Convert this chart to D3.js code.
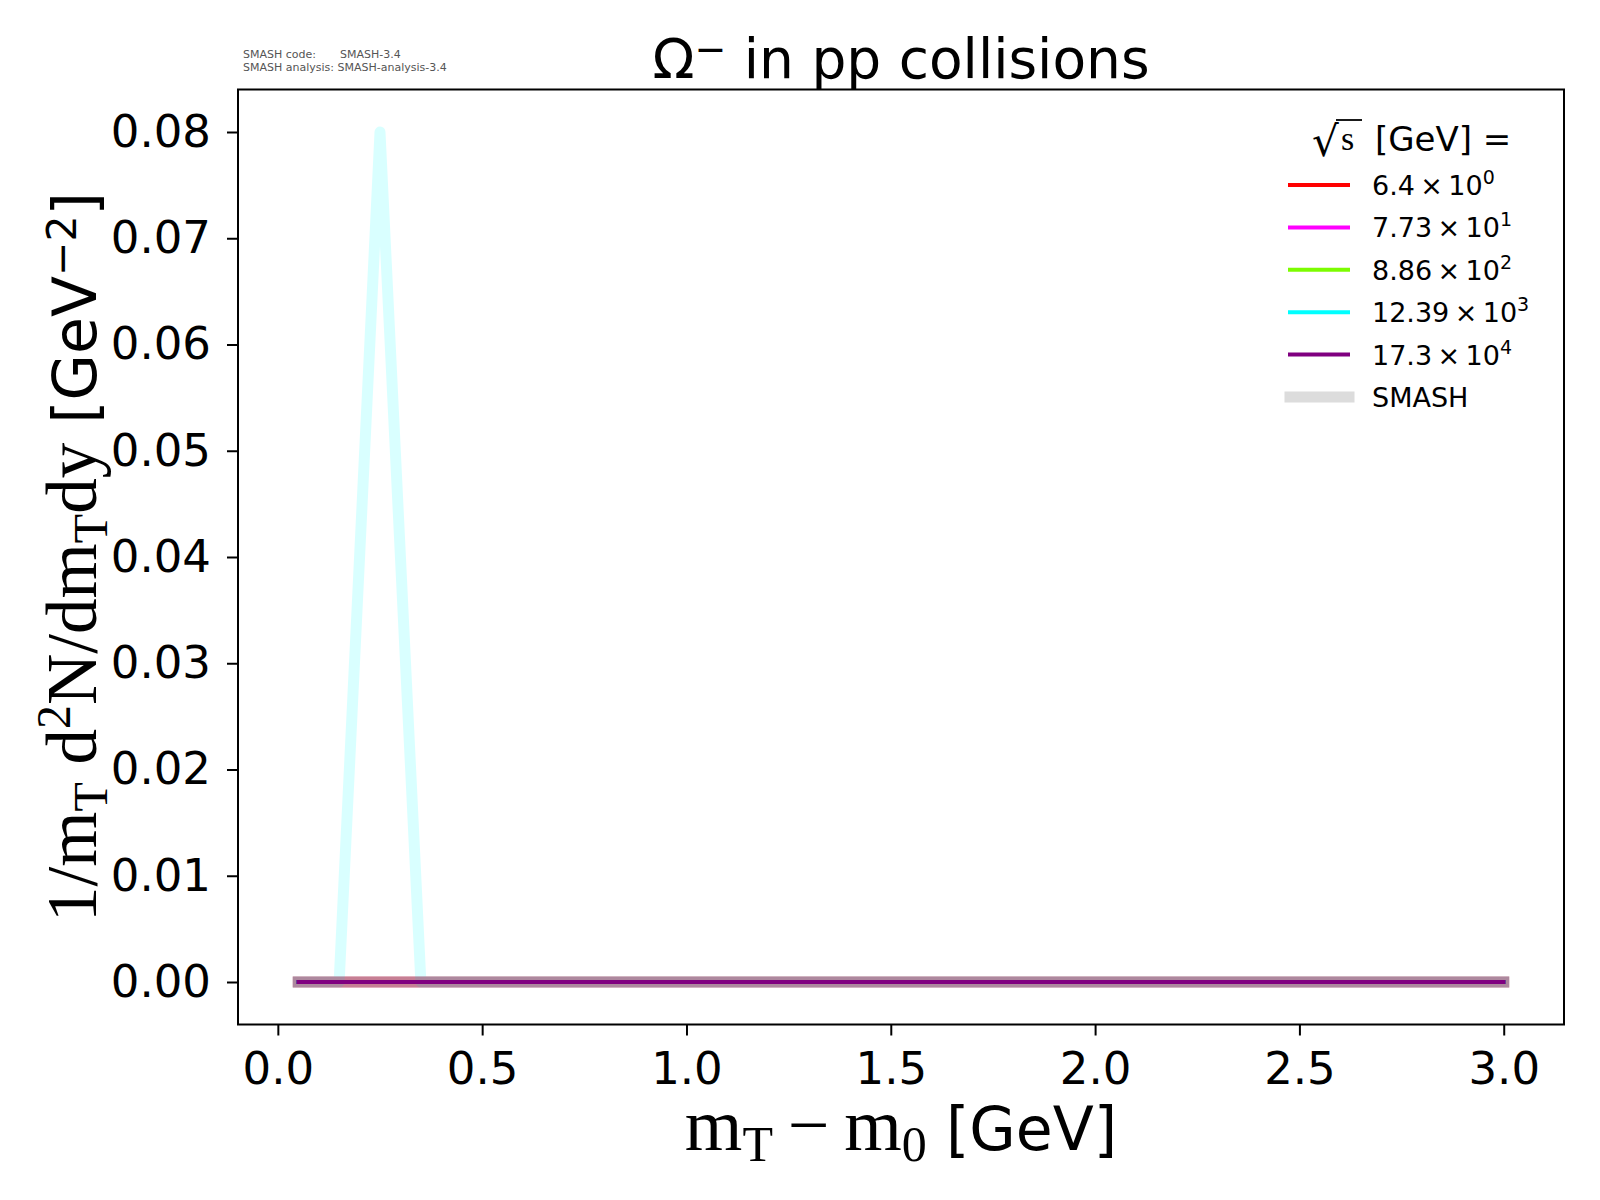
<!DOCTYPE html>
<html>
<head>
<meta charset="utf-8">
<script src="https://cdn.jsdelivr.net/npm/d3@7"></script>
<style>
  body { margin: 0; background: #fff; }
  text { font-family: "DejaVu Sans", sans-serif; }
</style>
</head>
<body>
<svg id="chart" width="1600" height="1200"></svg>
<script>
// m_T - m_0 bin positions [GeV]
const mtBins = [0.05, 0.15, 0.25, 0.35, 0.5, 0.75, 1.0, 1.5, 2.0, 2.5, 3.0];

// sqrt(s) legend labels: mantissa, exponent
const energyMantissa = ["6.4", "7.73", "8.86", "12.39", "17.3"];
const energyExponent = ["0", "1", "2", "3", "4"];
const seriesColors = ["#ff0000", "#ff00ff", "#7cfc00", "#00ffff", "#800080"];

// reference (thin line) values per energy
const dataValues = [
  [0, 0, 0, 0, 0, 0, 0, 0, 0, 0, 0],
  [0, 0, 0, 0, 0, 0, 0, 0, 0, 0, 0],
  [0, 0, 0, 0, 0, 0, 0, 0, 0, 0, 0],
  [0, 0, 0, 0, 0, 0, 0, 0, 0, 0, 0],
  [0, 0, 0, 0, 0, 0, 0, 0, 0, 0, 0]
];
// SMASH (wide band) values per energy
const smashValues = [
  [0, 0, 0, 0, 0, 0, 0, 0, 0, 0, 0],
  [0, 0, 0, 0, 0, 0, 0, 0, 0, 0, 0],
  [0, 0, 0, 0, 0, 0, 0, 0, 0, 0, 0],
  [0, 0, 0.08, 0, 0, 0, 0, 0, 0, 0, 0],
  [0, 0, 0, 0, 0, 0, 0, 0, 0, 0, 0]
];

const xTicks = [0.0, 0.5, 1.0, 1.5, 2.0, 2.5, 3.0];
const yTicks = [0.00, 0.01, 0.02, 0.03, 0.04, 0.05, 0.06, 0.07, 0.08];

const svg = d3.select("#chart");
const box = { left: 238, right: 1564, top: 89.5, bottom: 1024.5 };

const x = d3.scaleLinear().domain([-0.0975, 3.1475]).range([box.left, box.right]);
const y = d3.scaleLinear().domain([-0.004, 0.084]).range([box.bottom, box.top]);

// version note, top left
const note = svg.append("g").attr("fill", "#555").style("font-size", "11px");
note.append("text").attr("x", 243).attr("y", 58).text("SMASH code:");
note.append("text").attr("x", 340).attr("y", 58).text("SMASH-3.4");
note.append("text").attr("x", 243).attr("y", 71).text("SMASH analysis: SMASH-analysis-3.4");

// title
const title = svg.append("text")
  .attr("x", (box.left + box.right) / 2).attr("y", 78)
  .attr("text-anchor", "middle").style("font-size", "55px");
title.append("tspan").text("Ω");
title.append("tspan").attr("dy", -16).style("font-size", "38px").text("−");
title.append("tspan").attr("dy", 16).text(" in pp collisions");

const line = d3.line()
  .x((d, i) => x(mtBins[i]))
  .y(d => y(d));

const plot = svg.append("g");
const bandOpacity = [0.25, 0.25, 0.25, 0.15, 0.25];

smashValues.forEach((vals, k) => {
  plot.append("path")
    .attr("d", line(vals))
    .attr("fill", "none")
    .attr("stroke", seriesColors[k])
    .attr("stroke-opacity", bandOpacity[k])
    .attr("stroke-width", 11)
    .attr("stroke-linejoin", "round")
    .attr("stroke-linecap", "square");
});

dataValues.forEach((vals, k) => {
  plot.append("path")
    .attr("d", line(vals))
    .attr("fill", "none")
    .attr("stroke", seriesColors[k])
    .attr("stroke-width", 4)
    .attr("stroke-linejoin", "round")
    .attr("stroke-linecap", "square");
});

// axes
const xAxis = svg.append("g")
  .attr("transform", `translate(0,${box.bottom})`)
  .call(d3.axisBottom(x).tickValues(xTicks).tickFormat(d3.format(".1f"))
    .tickSize(11).tickPadding(17).tickSizeOuter(0));
const yAxis = svg.append("g")
  .attr("transform", `translate(${box.left},0)`)
  .call(d3.axisLeft(y).tickValues(yTicks).tickFormat(d3.format(".2f"))
    .tickSize(11).tickPadding(16).tickSizeOuter(0));

[xAxis, yAxis].forEach(g => {
  g.select(".domain").remove();
  g.selectAll(".tick line").attr("stroke", "#000").attr("stroke-width", 2);
  g.selectAll(".tick text")
    .style("font-family", "'DejaVu Sans', sans-serif")
    .style("font-size", "45px").attr("fill", "#000");
});

svg.append("rect")
  .attr("x", box.left).attr("y", box.top)
  .attr("width", box.right - box.left).attr("height", box.bottom - box.top)
  .attr("fill", "none").attr("stroke", "#000").attr("stroke-width", 2);

// x label
const serif = "'Liberation Serif', 'DejaVu Serif', serif";
const xl = svg.append("text")
  .attr("x", (box.left + box.right) / 2).attr("y", 1150)
  .attr("text-anchor", "middle").style("font-size", "60px");
xl.append("tspan").style("font-family", serif).style("font-size", "74px").text("m");
xl.append("tspan").style("font-family", serif).style("font-size", "50px").attr("dy", 11).text("T");
xl.append("tspan").style("font-family", serif).style("font-size", "74px").attr("dy", -11).text("\u2009−\u2009m");
xl.append("tspan").style("font-family", serif).style("font-size", "50px").attr("dy", 11).text("0");
xl.append("tspan").attr("dy", -11).text(" [GeV]");

// y label
const yl = svg.append("text")
  .attr("transform", `translate(96,${(box.top + box.bottom) / 2}) rotate(-90)`)
  .attr("text-anchor", "middle").style("font-size", "60px");
yl.append("tspan").style("font-family", serif).style("font-size", "71px").text("1/m");
yl.append("tspan").style("font-family", serif).style("font-size", "48px").attr("dy", 11).text("T");
yl.append("tspan").style("font-family", serif).style("font-size", "71px").attr("dy", -11).text(" d");
yl.append("tspan").style("font-family", serif).style("font-size", "48px").attr("dy", -26).text("2");
yl.append("tspan").style("font-family", serif).style("font-size", "71px").attr("dy", 26).text("N/dm");
yl.append("tspan").style("font-family", serif).style("font-size", "48px").attr("dy", 11).text("T");
yl.append("tspan").style("font-family", serif).style("font-size", "71px").attr("dy", -11).text("dy");
yl.append("tspan").text(" [GeV");
yl.append("tspan").style("font-size", "41px").attr("dy", -20).text("−2");
yl.append("tspan").attr("dy", 20).text("]");

// legend
const leg = svg.append("g").style("font-size", "27px");
const lt = leg.append("g");
lt.append("text").attr("x", 1312).attr("y", 156).style("font-size", "42px").text("√");
lt.append("line").attr("x1", 1336).attr("x2", 1362).attr("y1", 120).attr("y2", 120)
  .attr("stroke", "#000").attr("stroke-width", 1.8);
lt.append("text").attr("x", 1341).attr("y", 150).style("font-family", serif).style("font-size", "34px").text("s");
lt.append("text").attr("x", 1375).attr("y", 151).style("font-size", "34px").text("[GeV] =");

const rowY = d3.range(6).map(i => 185 + i * 42.4);
energyMantissa.forEach((m, i) => {
  leg.append("line")
    .attr("x1", 1290).attr("x2", 1348).attr("y1", rowY[i]).attr("y2", rowY[i])
    .attr("stroke", seriesColors[i]).attr("stroke-width", 4).attr("stroke-linecap", "square");
  const t = leg.append("text").attr("x", 1372).attr("y", rowY[i] + 10);
  t.append("tspan").text(m + "\u2009×\u200910");
  t.append("tspan").attr("dy", -11).style("font-size", "19px").text(energyExponent[i]);
});
leg.append("line")
  .attr("x1", 1290).attr("x2", 1349).attr("y1", rowY[5]).attr("y2", rowY[5])
  .attr("stroke", "#dcdcdc").attr("stroke-width", 11).attr("stroke-linecap", "square");
leg.append("text").attr("x", 1372).attr("y", rowY[5] + 10).text("SMASH");
</script>
</body>
</html>
